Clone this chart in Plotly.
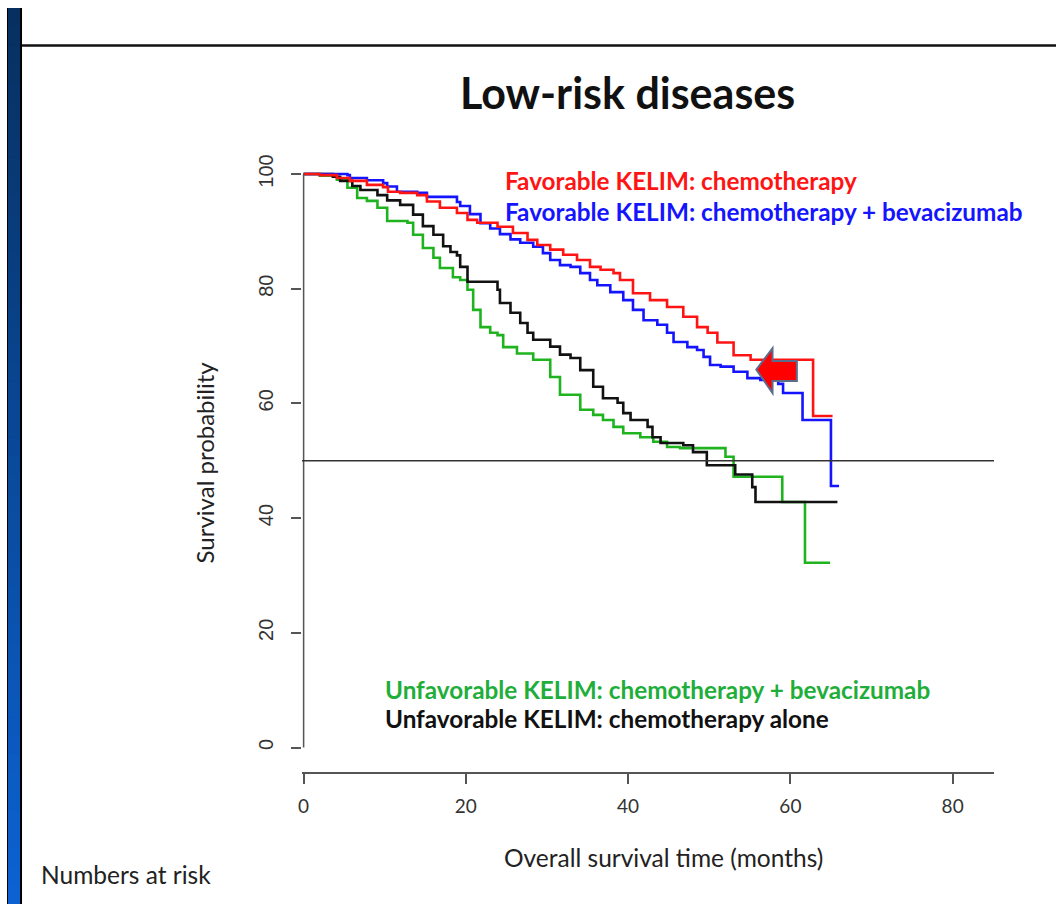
import plotly.graph_objects as go

# Kaplan-Meier step curves: months and survival probability (%)
red_t = [0, 2.0, 4.1, 5.7, 7.8, 9.8, 10.4, 11.9, 14.0, 15.2, 16.8, 18.9, 20.2, 21.4, 23.9,
         25.8, 27.6, 28.8, 30.4, 32.0, 33.7, 35.3, 36.6, 38.2, 39.0, 40.6, 42.7, 44.8, 46.8,
         48.5, 49.8, 51.0, 53.0, 55.1, 62.8, 65.2]
red_s = [100, 99.8, 99.3, 98.8, 98.1, 97.7, 96.9, 96.7, 96.3, 95.2, 94.1, 93.2, 92.0, 91.5, 90.8,
         89.7, 88.5, 87.6, 86.8, 85.9, 85.0, 83.8, 83.3, 82.7, 81.5, 79.2, 78.0, 76.8, 75.1,
         73.3, 72.3, 70.6, 68.4, 67.6, 57.8, 57.8]

blue_t = [0, 5.4, 5.7, 7.8, 9.8, 10.3, 11.5, 14.0, 15.2, 18.9, 19.3, 20.5, 21.8, 23.0, 24.2,
          25.5, 26.7, 28.3, 29.5, 30.4, 31.6, 32.9, 34.1, 35.3, 36.2, 37.8, 39.4, 40.6, 41.9,
          43.6, 44.8, 45.6, 47.3, 48.5, 49.3, 50.1, 51.4, 53.0, 54.7, 56.3, 58.5, 59.1, 61.5,
          65.0, 66.0]
blue_s = [100, 99.8, 99.3, 98.9, 98.4, 97.8, 96.9, 96.7, 96.0, 95.1, 94.4, 93.0, 91.4, 90.5, 89.5,
          88.6, 88.0, 87.3, 86.2, 85.0, 84.1, 83.8, 82.7, 81.5, 80.6, 79.4, 78.0, 76.3, 74.5,
          73.7, 72.3, 70.7, 69.8, 69.3, 68.1, 66.7, 66.4, 65.5, 64.4, 64.1, 63.4, 61.8, 57.1,
          45.6, 45.6]

green_t = [0, 2.0, 4.1, 5.4, 6.6, 7.8, 9.1, 10.3, 12.8, 13.5, 14.7, 16.0, 16.8, 18.4, 19.3,
           20.2, 20.9, 21.8, 23.0, 23.9, 24.6, 26.3, 28.3, 30.4, 31.6, 34.1, 35.7, 36.9, 38.2,
           39.4, 41.5, 43.1, 44.8, 46.4, 52.0, 53.0, 59.0, 61.8, 64.9]
green_s = [100, 99.7, 99.0, 97.6, 95.8, 95.3, 94.1, 91.8, 91.5, 89.4, 87.1, 85.4, 83.6, 82.0, 81.5,
           79.8, 76.3, 73.3, 72.3, 71.9, 69.8, 68.7, 67.6, 64.6, 61.5, 58.9, 58.0, 57.1, 55.9,
           54.8, 54.1, 53.3, 52.4, 52.2, 50.7, 47.2, 42.8, 32.2, 32.2]

black_t = [0, 3.6, 4.5, 6.0, 7.0, 9.1, 10.3, 11.9, 13.5, 14.7, 16.0, 17.2, 18.1, 18.9, 19.3,
           20.2, 23.9, 24.2, 25.5, 26.7, 27.6, 28.3, 30.4, 31.6, 32.9, 34.1, 35.7, 36.9, 38.7,
           39.4, 40.3, 42.4, 43.0, 44.0, 46.8, 48.0, 49.7, 53.2, 55.3, 55.7, 65.8]
black_s = [100, 99.5, 98.8, 97.9, 97.2, 96.3, 95.4, 94.6, 92.9, 90.9, 89.4, 87.4, 86.4, 85.8, 83.8,
           81.2, 79.8, 77.5, 75.8, 74.0, 72.3, 71.1, 69.9, 68.5, 67.9, 65.8, 62.9, 60.9, 60.1,
           58.3, 57.1, 55.9, 54.1, 53.1, 52.7, 51.5, 49.2, 47.6, 45.4, 42.8, 42.8]

x_ticks = [0, 20, 40, 60, 80]
y_ticks = [0, 20, 40, 60, 80, 100]
median_line = 50

RED, BLUE, GREEN, BLACK = "#ff1414", "#1414ff", "#1fb41f", "#111111"
CAL = "Lato, 'Open Sans', sans-serif"

fig = go.Figure()
for t, s, col in [(green_t, green_s, GREEN), (black_t, black_s, BLACK),
                  (blue_t, blue_s, BLUE), (red_t, red_s, RED)]:
    fig.add_trace(go.Scatter(x=t, y=s, mode="lines", line=dict(color=col, width=2.6, shape="hv"),
                             showlegend=False, hoverinfo="skip"))

shapes = []
# side stripe with vertical gradient
n = 48
top, bot = 1.2303, -0.2126
c0, c1 = (7, 48, 96), (12, 98, 210)
shapes.append(dict(type="rect", xref="paper", yref="paper", x0=-0.4263, x1=-0.4046,
                   y0=bot, y1=top, fillcolor="#000000", line=dict(width=0), layer="above"))
for i in range(n):
    f = i / (n - 1)
    col = "rgb(%d,%d,%d)" % tuple(round(a + (b - a) * f) for a, b in zip(c0, c1))
    ya = top - (top - bot) * i / n
    yb = top - (top - bot) * (i + 1) / n
    shapes.append(dict(type="rect", xref="paper", yref="paper", x0=-0.4249, x1=-0.4075,
                       y0=yb - 0.001, y1=ya, fillcolor=col, line=dict(width=0), layer="above"))
# header rule
shapes.append(dict(type="line", xref="paper", yref="paper", x0=-0.4046, x1=1.09,
                   y0=1.1699, y1=1.1699, line=dict(color="#111111", width=2.5)))
# y axis line spanning the tick range
shapes.append(dict(type="line", xref="x", yref="y", x0=0, x1=0, y0=y_ticks[0], y1=y_ticks[-1],
                   line=dict(color="#555555", width=1.5)))
# 50% reference line
shapes.append(dict(type="line", xref="paper", yref="y", x0=0, x1=1, y0=median_line, y1=median_line,
                   line=dict(color="#333333", width=1.5)))
# left-pointing block arrow
shapes.append(dict(type="path", xref="x", yref="y",
                   path="M 55.8 65.9 L 57.8 69.6 L 57.8 67.4 L 60.8 67.4 L 60.8 63.9 "
                        "L 57.8 63.9 L 57.8 61.8 Z",
                   fillcolor="#ff0000", line=dict(color="#5d6b8c", width=2), layer="above"))


def label(text, x, y, size, color, ref="paper", anchor="center", angle=0):
    return dict(text=text, xref=ref, yref=ref if ref == "paper" else "y", x=x, y=y,
                xanchor=anchor, yanchor="middle", textangle=angle, showarrow=False,
                font=dict(family=CAL, size=size, color=color))


annotations = [
    label("<b>Low-risk diseases</b>", 0.4697, 1.0934, 43, "#111111"),
    label("Survival probability", -0.1395, 0.4992, 24, "#222222", angle=-90),
    label("Overall survival time (months)", 0.523, -0.1369, 24.5, "#222222"),
    label("Numbers at risk", -0.3800, -0.1643, 24.5, "#222222", anchor="left"),
]
legend_rows = [
    ("<b>Favorable KELIM: chemotherapy</b>", 24.55, 98.8, RED),
    ("<b>Favorable KELIM: chemotherapy + bevacizumab</b>", 24.55, 93.5, BLUE),
    ("<b>Unfavorable KELIM: chemotherapy + bevacizumab</b>", 9.75, 10.2, "#1fae3a"),
    ("<b>Unfavorable KELIM: chemotherapy alone</b>", 9.75, 5.0, "#111111"),
]
for text, x, y, col in legend_rows:
    annotations.append(label(text, x, y, 24.3, col, ref="x", anchor="left"))

fig.update_layout(
    width=1056, height=904,
    margin=dict(l=302, r=62, t=151, b=132, pad=0),
    paper_bgcolor="white", plot_bgcolor="white",
    shapes=shapes, annotations=annotations,
    xaxis=dict(range=[-0.2, 85.1], tickvals=x_ticks, ticks="outside", ticklen=10, tickwidth=1.5,
               tickcolor="#555555", showline=True, linecolor="#555555", linewidth=1.5,
               showgrid=False, zeroline=False, ticklabelstandoff=6,
               tickfont=dict(family=CAL, size=19, color="#333333")),
    yaxis=dict(range=[-4.27, 104.0], tickvals=y_ticks, ticks="outside", ticklen=10, tickwidth=1.5,
               tickcolor="#555555", showline=False, showgrid=False, zeroline=False,
               tickangle=-90, ticklabelstandoff=10,
               tickfont=dict(family="Liberation Sans, Arial, sans-serif", size=20, color="#333333")),
)

fig.write_html("out.html")
